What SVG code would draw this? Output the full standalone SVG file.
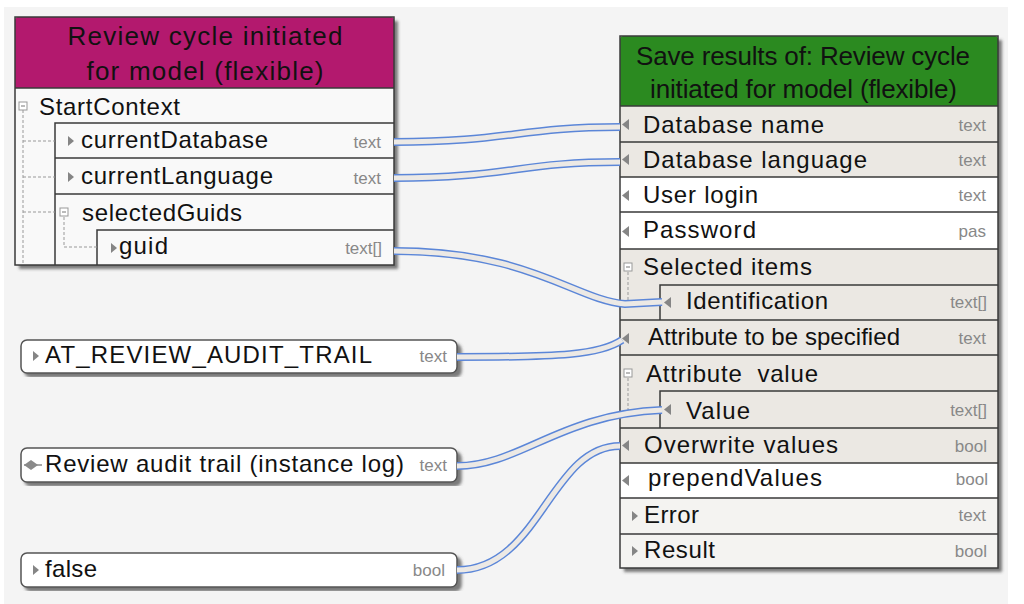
<svg xmlns="http://www.w3.org/2000/svg" width="1024" height="604" viewBox="0 0 1024 604">
<defs>
<style>
.t{font-family:"Liberation Sans",Arial,sans-serif;font-size:24px;fill:#111}
.h{font-family:"Liberation Sans",Arial,sans-serif;font-size:26px;fill:#111}
.ty{font-family:"Liberation Sans",Arial,sans-serif;font-size:17px;fill:#888;text-anchor:end}
.ln{stroke:#3a3a3a;stroke-width:1.5;fill:none}
.dash{stroke:#999;stroke-width:1;stroke-dasharray:3,2;fill:none}
.tri{fill:#858585}
.box{fill:#fff;stroke:#999;stroke-width:1}
.cout{fill:none;stroke:#5b86d8;stroke-width:8}
.cin{fill:none;stroke:#ece9e5;stroke-width:5}
.cst{fill:#fff;stroke:#555;stroke-width:1.5}
</style>
<filter id="sh" x="-5%" y="-5%" width="115%" height="115%">
<feDropShadow dx="4" dy="4" stdDeviation="1.5" flood-color="#444" flood-opacity="0.7"/>
</filter>
</defs>
<rect x="0" y="0" width="1024" height="604" fill="#fff"/>
<rect x="4" y="7" width="1004" height="597" fill="#f4f4f4"/>

<g id="node-review-cycle">
<rect x="15" y="17" width="379" height="248" fill="#f9f9f9" filter="url(#sh)"/>
<path d="M15,88 V20 Q15,17 18,17 H391 Q394,17 394,20 V88 Z" fill="#b3196e"/>
<text class="h" x="205" y="45" text-anchor="middle" textLength="275" lengthAdjust="spacing">Review cycle initiated</text>
<text class="h" x="205" y="80" text-anchor="middle" textLength="237" lengthAdjust="spacing">for model (flexible)</text>
<rect x="15" y="17" width="379" height="248" class="ln"/>
<line x1="15" y1="88" x2="394" y2="88" class="ln"/>
<path class="ln" d="M55,265 V123 H394 M55,158 H394 M55,194 H394 M97,265 V230 H394"/>
<path class="dash" d="M23,110 V265 M23,141 H55 M23,177 H55 M23,212 H55 M64,217 V247 H97"/>
<rect class="box" x="19" y="102" width="8" height="8"/><line x1="21" y1="106" x2="25" y2="106" stroke="#777"/>
<rect class="box" x="60" y="208" width="8" height="8"/><line x1="62" y1="212" x2="66" y2="212" stroke="#777"/>
<text class="t" x="39" y="115" textLength="141" lengthAdjust="spacing">StartContext</text>
<path class="tri" d="M68,136 L74,141 L68,146 Z"/>
<text class="t" x="81" y="148" textLength="187" lengthAdjust="spacing">currentDatabase</text>
<text class="ty" x="381" y="148">text</text>
<path class="tri" d="M68,172 L74,177 L68,182 Z"/>
<text class="t" x="81" y="184" textLength="192" lengthAdjust="spacing">currentLanguage</text>
<text class="ty" x="381" y="184">text</text>
<text class="t" x="82" y="221" textLength="160" lengthAdjust="spacing">selectedGuids</text>
<path class="tri" d="M111,243 L117,248 L111,253 Z"/>
<text class="t" x="119" y="254" textLength="49" lengthAdjust="spacing">guid</text>
<text class="ty" x="382" y="254">text[]</text>
</g>

<g id="node-save-results">
<rect x="620" y="36" width="378" height="532" fill="#fff" filter="url(#sh)"/>
<path d="M620,106 V39 Q620,36 623,36 H995 Q998,36 998,39 V106 Z" fill="#2b8a20"/>
<text class="h" x="636" y="65" textLength="334" lengthAdjust="spacing">Save results of: Review cycle</text>
<text class="h" x="650" y="98" textLength="307" lengthAdjust="spacing">initiated for model (flexible)</text>
<rect x="620" y="106" width="378" height="71" fill="#ebe8e3"/>
<rect x="620" y="249" width="378" height="214" fill="#ebe8e3"/>
<rect x="620" y="498" width="378" height="70" fill="#f4f3f1"/>
<rect x="620" y="36" width="378" height="532" class="ln"/>
<path class="ln" d="M620,106 H998 M620,142 H998 M620,177 H998 M620,212 H998 M620,249 H998 M660,320 V285 H998 M620,320 H998 M620,355 H998 M660,428 V391 H998 M620,428 H998 M620,463 H998 M620,498 H998 M620,534 H998"/>
<path class="dash" d="M628,272 V302 H660 M628,378 V410 H660"/>
<rect class="box" x="624" y="263" width="8" height="8"/><line x1="626" y1="267" x2="630" y2="267" stroke="#777"/>
<rect class="box" x="624" y="369" width="8" height="8"/><line x1="626" y1="373" x2="630" y2="373" stroke="#777"/>
<path class="tri" d="M629,119 L622,124.5 L629,130 Z"/>
<text class="t" x="643" y="133" textLength="181" lengthAdjust="spacing">Database name</text>
<text class="ty" x="986" y="131">text</text>
<path class="tri" d="M629,154 L622,159.5 L629,165 Z"/>
<text class="t" x="643" y="168" textLength="224" lengthAdjust="spacing">Database language</text>
<text class="ty" x="986" y="166">text</text>
<path class="tri" d="M629,190 L622,195.5 L629,201 Z"/>
<text class="t" x="643" y="203" textLength="115" lengthAdjust="spacing">User login</text>
<text class="ty" x="986" y="201">text</text>
<path class="tri" d="M629,226 L622,231.5 L629,237 Z"/>
<text class="t" x="643" y="238" textLength="113" lengthAdjust="spacing">Password</text>
<text class="ty" x="986" y="237">pas</text>
<text class="t" x="643" y="275" textLength="169" lengthAdjust="spacing">Selected items</text>
<path class="tri" d="M671,297 L664,302.5 L671,308 Z"/>
<text class="t" x="686" y="309" textLength="142" lengthAdjust="spacing">Identification</text>
<text class="ty" x="987" y="308">text[]</text>
<path class="tri" d="M629,333 L622,338.5 L629,344 Z"/>
<text class="t" x="648" y="345" textLength="252" lengthAdjust="spacing">Attribute to be specified</text>
<text class="ty" x="986" y="344">text</text>
<text class="t" x="646" y="382" textLength="172" lengthAdjust="spacing" xml:space="preserve">Attribute  value</text>
<path class="tri" d="M671,404 L664,409.5 L671,415 Z"/>
<text class="t" x="686" y="419" textLength="64" lengthAdjust="spacing">Value</text>
<text class="ty" x="987" y="416">text[]</text>
<path class="tri" d="M629,440 L622,445.5 L629,451 Z"/>
<text class="t" x="644" y="453" textLength="194" lengthAdjust="spacing">Overwrite values</text>
<text class="ty" x="987" y="452">bool</text>
<path class="tri" d="M629,475 L622,480.5 L629,486 Z"/>
<text class="t" x="648" y="486" textLength="174" lengthAdjust="spacing">prependValues</text>
<text class="ty" x="988" y="485">bool</text>
<path class="tri" d="M632,511 L638,516 L632,521 Z"/>
<text class="t" x="644" y="523" textLength="55" lengthAdjust="spacing">Error</text>
<text class="ty" x="986" y="521">text</text>
<path class="tri" d="M632,546 L638,551 L632,556 Z"/>
<text class="t" x="644" y="558" textLength="71" lengthAdjust="spacing">Result</text>
<text class="ty" x="987" y="557">bool</text>
</g>

<g id="const-at-review">
<rect x="21" y="340" width="436" height="33" rx="6" class="cst" filter="url(#sh)"/>
<path class="tri" d="M33,351 L39,356 L33,361 Z"/>
<text class="t" x="45" y="363" textLength="327" lengthAdjust="spacing">AT_REVIEW_AUDIT_TRAIL</text>
<text class="ty" x="447" y="362">text</text>
</g>

<g id="const-review-audit">
<rect x="21" y="448" width="436" height="34" rx="6" class="cst" filter="url(#sh)"/>
<path d="M24,465 L31,460 L38,465 L31,470 Z" fill="#8a8a8a"/>
<line x1="24" y1="465" x2="42" y2="465" stroke="#8a8a8a" stroke-width="1.5"/>
<text class="t" x="45" y="472" textLength="359" lengthAdjust="spacing">Review audit trail (instance log)</text>
<text class="ty" x="447" y="471">text</text>
</g>

<g id="const-false">
<rect x="21" y="553" width="436" height="34" rx="6" class="cst" filter="url(#sh)"/>
<path class="tri" d="M33,565 L39,570 L33,575 Z"/>
<text class="t" x="45" y="577" textLength="52" lengthAdjust="spacing">false</text>
<text class="ty" x="445" y="576">bool</text>
</g>

<g id="connectors">
<path class="cout" d="M394,142 C507,142 520,127 620,127"/>
<path class="cin" d="M394,142 C507,142 520,127 620,127"/>
<path class="cout" d="M394,178 C507,178 520,162 620,162"/>
<path class="cin" d="M394,178 C507,178 520,162 620,162"/>
<path class="cout" d="M394,251 C530,251 575,300 625,304 L662,302"/>
<path class="cin" d="M394,251 C530,251 575,300 625,304 L662,302"/>
<path class="cout" d="M457,357 C560,357 600,355 622,340"/>
<path class="cin" d="M457,357 C560,357 600,355 622,340"/>
<path class="cout" d="M457,466 C520,466 560,414 662,410"/>
<path class="cin" d="M457,466 C520,466 560,414 662,410"/>
<path class="cout" d="M457,570 C540,570 550,446 620,446"/>
<path class="cin" d="M457,570 C540,570 550,446 620,446"/>
</g>
</svg>
